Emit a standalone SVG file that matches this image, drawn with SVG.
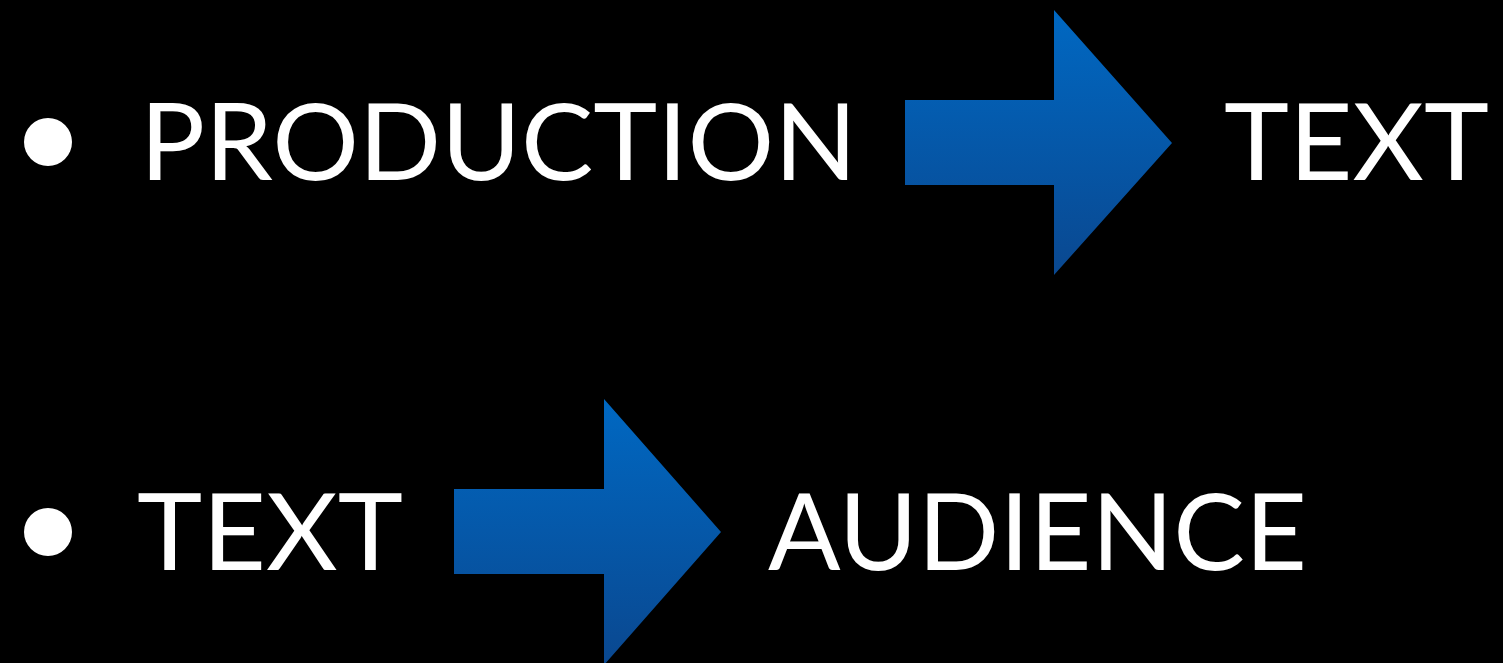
<svg xmlns="http://www.w3.org/2000/svg" width="1503" height="663" viewBox="0 0 1503 663">
<defs>
<linearGradient id="g1" gradientUnits="userSpaceOnUse" x1="0" y1="10" x2="0" y2="275"><stop offset="0" stop-color="#0068c2"/><stop offset="1" stop-color="#0a4890"/></linearGradient>
<linearGradient id="g2" gradientUnits="userSpaceOnUse" x1="0" y1="399" x2="0" y2="663"><stop offset="0" stop-color="#0068c2"/><stop offset="1" stop-color="#0a4890"/></linearGradient>
<style>
.t{font-family:Lato,"Liberation Sans",sans-serif;font-size:107px;fill:#fff}
.b{fill:#fff}
</style>
</defs>
<rect width="1503" height="663" fill="#000"/>
<g id="row1">
<circle class="b" cx="48" cy="142" r="24"/>
<text class="t" x="140" y="180" textLength="717" lengthAdjust="spacingAndGlyphs">PRODUCTION</text>
<text class="t" x="1224" y="180" textLength="265" lengthAdjust="spacingAndGlyphs">TEXT</text>
</g>
<g id="row2">
<circle class="b" cx="48" cy="532" r="24"/>
<text class="t" x="137" y="570" textLength="266" lengthAdjust="spacingAndGlyphs">TEXT</text>
<text class="t" x="768" y="570" textLength="539" lengthAdjust="spacingAndGlyphs">AUDIENCE</text>
</g>
<g id="connectors">
<polygon points="905,100 1054,100 1054,10 1172,143 1054,275 1054,185 905,185" fill="url(#g1)"/>
<polygon points="454,489 604,489 604,399 721,532 604,665 604,574 454,574" fill="url(#g2)"/>
</g>
</svg>
